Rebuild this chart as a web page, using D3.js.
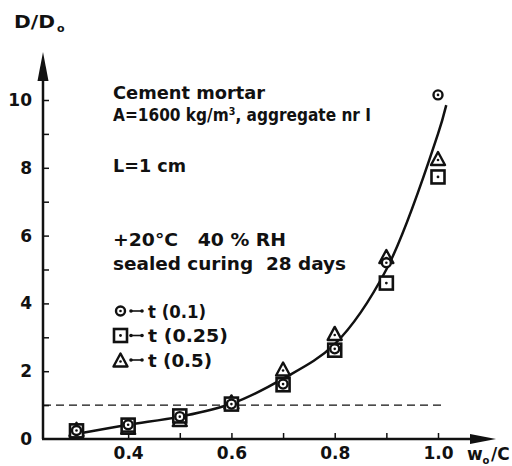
<!DOCTYPE html>
<html>
<head>
<meta charset="utf-8">
<script src="https://cdn.jsdelivr.net/npm/d3@7"></script>
<style>
  body { margin: 0; background: #fff; }
  svg { display: block; }
  text { font-family: "DejaVu Sans", sans-serif; font-weight: bold; fill: #111; white-space: pre; }
</style>
</head>
<body>
<svg width="512" height="466"></svg>
<script>
// w0/C ratio for the measured specimens
const wc = [0.3, 0.4, 0.5, 0.6, 0.7, 0.8, 0.9, 1.0];
// D/D0 for the three time levels
const t01 = [0.25, 0.42, 0.66, 1.03, 1.62, 2.66, 5.2, 10.15];   // circles
const t025 = [0.24, 0.41, 0.68, 1.03, 1.6, 2.62, 4.6, 7.73];    // squares
const t05 = [0.24, 0.3, 0.53, 1.05, 2.02, 3.07, 5.34, 8.23];    // triangles
// the drawn fit curve
const fitX = [0.31, 0.4, 0.5, 0.6, 0.7, 0.8, 0.9, 1.0, 1.016];
const fitY = [0.18, 0.42, 0.66, 1.04, 1.78, 2.8, 5.0, 9.0, 9.85];

const xTicks = [0.4, 0.5, 0.6, 0.7, 0.8, 0.9, 1.0];
const xLabels = [0.4, 0.6, 0.8, 1.0];
const yTicks = [1, 2, 3, 4, 5, 6, 7, 8, 9, 10];
const yLabels = [0, 2, 4, 6, 8, 10];
const legendNames = ["t (0.1)", "t (0.25)", "t (0.5)"];

const svg = d3.select("svg");
const ink = "#111";

const x = d3.scaleLinear().domain([0.3, 1.0]).range([76.5, 438]);
const y = d3.scaleLinear().domain([0, 10]).range([439, 100]);
const x0 = 43, y0 = y(0);

// axis lines with arrows
svg.append("line").attr("x1", x0).attr("y1", y0).attr("x2", x0).attr("y2", 70)
  .attr("stroke", ink).attr("stroke-width", 2.5);
svg.append("line").attr("x1", x0 - 1).attr("y1", y0).attr("x2", 480).attr("y2", y0)
  .attr("stroke", ink).attr("stroke-width", 2.5);
svg.append("path").attr("d", `M${x0},52 L${x0 + 5.5},81 L${x0 - 5.5},81 Z`).attr("fill", ink);
svg.append("path").attr("d", `M496,${y0} L470,${y0 - 5} L470,${y0 + 5} Z`).attr("fill", ink);

// y ticks (inside) and labels
const yAx = svg.append("g").attr("transform", `translate(${x0},0)`)
  .call(d3.axisLeft(y).tickValues(yTicks).tickSize(-6).tickFormat(""));
yAx.select(".domain").remove();
yAx.selectAll("line").attr("stroke", ink).attr("stroke-width", 1.5);
const yLab = svg.append("g").attr("transform", `translate(${x0},0)`)
  .call(d3.axisLeft(y).tickValues(yLabels).tickSize(0).tickPadding(11).tickFormat(d3.format("d")));
yLab.select(".domain").remove();
yLab.selectAll("text").attr("font-size", 17).attr("font-family", "DejaVu Sans").attr("font-weight", "bold").attr("fill", ink);

// x ticks (inside) and labels
const xAx = svg.append("g").attr("transform", `translate(0,${y0})`)
  .call(d3.axisBottom(x).tickValues(xTicks).tickSize(-6).tickFormat(""));
xAx.select(".domain").remove();
xAx.selectAll("line").attr("stroke", ink).attr("stroke-width", 1.5);
const xLab = svg.append("g").attr("transform", `translate(0,${y0})`)
  .call(d3.axisBottom(x).tickValues(xLabels).tickSize(0).tickPadding(8).tickFormat(d3.format(".1f")));
xLab.select(".domain").remove();
xLab.selectAll("text").attr("font-size", 17).attr("font-family", "DejaVu Sans").attr("font-weight", "bold").attr("fill", ink);

// axis titles
svg.append("text").attr("x", 14).attr("y", 28).attr("font-size", 17)
  .attr("textLength", 41).attr("lengthAdjust", "spacingAndGlyphs").text("D/D");
svg.append("text").attr("x", 57).attr("y", 32).attr("font-size", 11).text("o");
svg.append("text").attr("x", 467).attr("y", 460).attr("font-size", 17).text("w");
svg.append("text").attr("x", 482.5).attr("y", 464).attr("font-size", 10).text("o");
svg.append("text").attr("x", 491).attr("y", 460).attr("font-size", 17).text("/C");

// dashed reference line D/D0 = 1
svg.append("line").attr("x1", x0).attr("x2", x(1.0) + 3).attr("y1", y(1)).attr("y2", y(1))
  .attr("stroke", ink).attr("stroke-width", 1.4).attr("stroke-dasharray", "8,5");

// fit curve
const curve = fitX.map((d, i) => [d, fitY[i]]);
svg.append("path").datum(curve)
  .attr("d", d3.line().x(d => x(d[0])).y(d => y(d[1])).curve(d3.curveCatmullRom.alpha(0.5)))
  .attr("fill", "none").attr("stroke", ink).attr("stroke-width", 2.5);

// marker drawing helpers
function drawCircle(g, cx, cy) {
  g.append("circle").attr("cx", cx).attr("cy", cy).attr("r", 4.5)
    .attr("fill", "#fff").attr("stroke", ink).attr("stroke-width", 2.4);
  g.append("circle").attr("cx", cx).attr("cy", cy).attr("r", 1.3).attr("fill", ink);
}
function drawSquare(g, cx, cy) {
  g.append("rect").attr("x", cx - 6.5).attr("y", cy - 6.5).attr("width", 13).attr("height", 13)
    .attr("fill", "#fff").attr("stroke", ink).attr("stroke-width", 2.6);
  g.append("circle").attr("cx", cx).attr("cy", cy).attr("r", 1.4).attr("fill", ink);
}
function drawTriangle(g, cx, cy) {
  g.append("path").attr("d", `M${cx},${cy - 8} L${cx + 7},${cy + 5} L${cx - 7},${cy + 5} Z`)
    .attr("fill", "#fff").attr("stroke", ink).attr("stroke-width", 2.4).attr("stroke-linejoin", "round");
  g.append("circle").attr("cx", cx).attr("cy", cy).attr("r", 1.3).attr("fill", ink);
}

const marks = svg.append("g");
wc.forEach((w, i) => drawTriangle(marks, x(w), y(t05[i])));
wc.forEach((w, i) => drawSquare(marks, x(w), y(t025[i])));
wc.forEach((w, i) => drawCircle(marks, x(w), y(t01[i])));

// annotation text
const note = [
  { t: "Cement mortar", y: 99, len: 152 },
  { t: "A=1600 kg/m³, aggregate nr I", y: 121, len: 258 },
  { t: "L=1 cm", y: 172, len: 73 },
  { t: "+20°C   40 % RH", y: 246, len: 173 },
  { t: "sealed curing  28 days", y: 270, len: 233 }
];
svg.selectAll(".note").data(note).enter().append("text").attr("class", "note")
  .attr("x", 113).attr("y", d => d.y).attr("font-size", 18)
  .attr("textLength", d => d.len).attr("lengthAdjust", "spacingAndGlyphs")
  .text(d => d.t);

// legend
const drawers = [drawCircle, drawSquare, drawTriangle];
const legendLen = [58, 80, 64];
legendNames.forEach((name, i) => {
  const cy = 311 + i * 24.5;
  drawers[i](svg, 120.5, i === 2 ? cy + 1.5 : cy);
  svg.append("line").attr("x1", 130).attr("x2", 143).attr("y1", cy).attr("y2", cy)
    .attr("stroke", ink).attr("stroke-width", 1.6);
  svg.append("circle").attr("cx", 131).attr("cy", cy).attr("r", 1.8).attr("fill", ink);
  svg.append("circle").attr("cx", 142).attr("cy", cy).attr("r", 1.8).attr("fill", ink);
  svg.append("text").attr("x", 148).attr("y", cy + 6.5).attr("font-size", 17)
    .attr("textLength", legendLen[i]).attr("lengthAdjust", "spacingAndGlyphs").text(name);
});
</script>
</body>
</html>
